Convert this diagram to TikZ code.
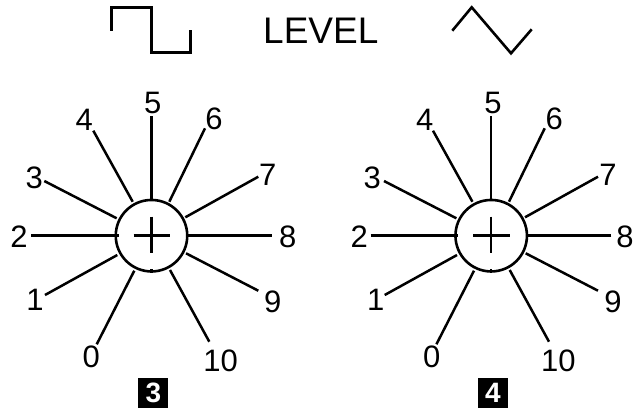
\documentclass[tikz,border=0pt]{standalone}
\usepackage{fontspec}
\setmainfont{Liberation Sans}
\tikzset{
 x=1pt,y=-1pt,
 ray/.style={line width=2.5pt},
 dial/.style={draw,circle,line width=2.6pt,minimum size=71.5pt,inner sep=0pt},
 num/.style={font=\fontsize{31}{31}\selectfont,inner sep=0pt,text=black},
 tag/.style={fill=black,text=white,font=\fontsize{28}{28}\selectfont\bfseries,minimum width=30pt,minimum height=30pt,inner sep=0pt},
 wave/.style={line width=2.6pt,line join=miter},
 title/.style={font=\fontsize{37}{37}\selectfont,inner sep=0pt,text=black},
}
\newcommand{\knob}[4]{%
 \begin{scope}[shift={(#1,0)}]
 \node[dial] (#2d) at (151.5,235.7) {};
 \coordinate (#2pl) at (133.7,235.7);
 \coordinate (#2pr) at (170,235.7);
 \coordinate (#2pt) at (151.5,216.7);
 \coordinate (#2pb) at (151.5,253.3);
 \draw[ray] (#2pl) -- (#2pr);
 \draw[ray] (#2pt) -- (#2pb);
 \coordinate (#2t0) at (151.5,269.3);
 \coordinate (#2t1) at (151.5,273);
 \draw[ray] (#2t0) -- (#2t1);
 \foreach \ex/\ey/\ix/\iy [count=\k] in {
  96.7/344.3/134.3/270.7,
  45/295/117.3/255,
  31/235.7/118.5/235.7,
  44.3/181/116.7/218.3,
  93.3/130.7/132.7/201.7,
  151.5/116/151.5/199,
  205/128.3/169.3/201.7,
  258.3/176.7/185.3/217.3,
  271.7/235.7/186.5/235.7,
  258.3/290.7/186/253.3,
  209.3/341.7/170/270}{
  \coordinate (#2e\k) at (\ex,\ey);
  \coordinate (#2i\k) at (\ix,\iy);
  \draw[ray] (#2e\k) -- (#2i\k);
 }
 \end{scope}
 \foreach \n/\lx/\ly in {#4}{
  \node[num] (#2l\n) at (\lx,\ly) {\n};
 }
 \node[tag] (#2tag) at (#1+153.3,393.3) {#3};
}
\begin{document}
\begin{tikzpicture}
\useasboundingbox (0,0) rectangle (636,416);
\knob{0}{a}{3}{0/91.3/356.7,1/35/300,2/19/236.7,3/34.3/178.3,4/84.3/120,5/152.7/103.3,6/214/119.3,7/267.7/175,8/287.7/236.7,9/272.7/301.7,10/220.7/360.7}
\knob{339.7}{b}{4}{0/431.7/356.7,1/375.7/300,2/359.3/236.7,3/372.3/178.3,4/424.7/120,5/493/103.3,6/554.3/119.3,7/608/175,8/625/236.7,9/613/301.7,10/558.3/360.7}
\node[title] (lv) at (320.8,30.3) {LEVEL};
\coordinate (s0) at (111.7,30.7);
\coordinate (s1) at (111.7,7.3);
\coordinate (s2) at (151.7,7.3);
\coordinate (s3) at (151.7,52.7);
\coordinate (s4) at (190.7,52.7);
\coordinate (s5) at (190.7,30);
\draw[wave] (s0) -- (s1) -- (s2) -- (s3) -- (s4) -- (s5);
\coordinate (t0) at (452.3,30.7);
\coordinate (t1) at (471.7,7.3);
\coordinate (t2) at (511,53.3);
\coordinate (t3) at (531.7,29.3);
\draw[wave] (t0) -- (t1) -- (t2) -- (t3);
\end{tikzpicture}
\end{document}
